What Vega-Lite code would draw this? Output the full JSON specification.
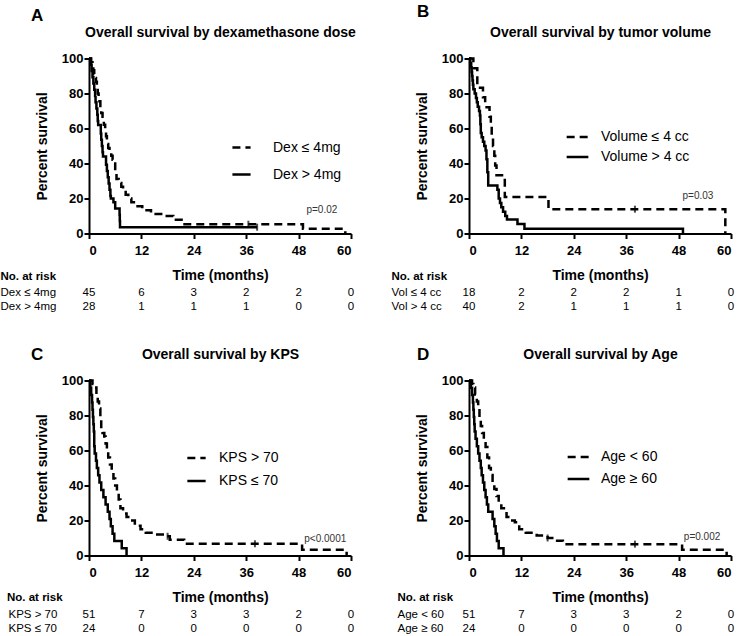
{
"$schema":"https://vega.github.io/schema/vega-lite/v6.json",
"padding":{"left":0,"top":2.5,"right":0,"bottom":0},
"config":{"font":"Liberation Sans","view":{"stroke":null},
 "axis":{"grid":false,"domainWidth":2,"tickWidth":2,"tickSize":5,"domainColor":"black","tickColor":"black","labelColor":"black","titleColor":"black","labelFontSize":13,"labelFontWeight":"bold","titleFontSize":14,"titleFontWeight":"bold"},
 "axisX":{"labelPadding":6,"titlePadding":11},
 "axisY":{"labelPadding":1,"titlePadding":12},
 "title":{"color":"black","fontWeight":"bold"},
 "text":{"font":"Liberation Sans","color":"black"}
},
"resolve":{"scale":{"strokeDash":"independent"},"legend":{"strokeDash":"independent"}},
"datasets":{
"curveA":[
{"g":"Dex ≤ 4mg","t":0,"s":100},{"g":"Dex ≤ 4mg","t":0.5,"s":97.8},{"g":"Dex ≤ 4mg","t":0.8,"s":95.6},{"g":"Dex ≤ 4mg","t":1.0,"s":93.3},{"g":"Dex ≤ 4mg","t":1.2,"s":91.1},{"g":"Dex ≤ 4mg","t":1.4,"s":88.9},{"g":"Dex ≤ 4mg","t":1.6,"s":86.7},{"g":"Dex ≤ 4mg","t":1.8,"s":84.4},{"g":"Dex ≤ 4mg","t":2.0,"s":80},{"g":"Dex ≤ 4mg","t":2.2,"s":77.8},{"g":"Dex ≤ 4mg","t":2.4,"s":75.6},{"g":"Dex ≤ 4mg","t":2.6,"s":71.1},{"g":"Dex ≤ 4mg","t":2.8,"s":68.9},{"g":"Dex ≤ 4mg","t":3.1,"s":66.7},{"g":"Dex ≤ 4mg","t":3.4,"s":62.2},{"g":"Dex ≤ 4mg","t":3.7,"s":57.8},{"g":"Dex ≤ 4mg","t":3.9,"s":55.6},{"g":"Dex ≤ 4mg","t":4.1,"s":51.1},{"g":"Dex ≤ 4mg","t":4.4,"s":48.9},{"g":"Dex ≤ 4mg","t":4.7,"s":46.7},{"g":"Dex ≤ 4mg","t":5.1,"s":44.4},{"g":"Dex ≤ 4mg","t":5.4,"s":42.2},{"g":"Dex ≤ 4mg","t":5.7,"s":40},{"g":"Dex ≤ 4mg","t":6.0,"s":35.6},{"g":"Dex ≤ 4mg","t":6.3,"s":31.1},{"g":"Dex ≤ 4mg","t":6.8,"s":28.9},{"g":"Dex ≤ 4mg","t":7.4,"s":26.7},{"g":"Dex ≤ 4mg","t":7.8,"s":24.4},{"g":"Dex ≤ 4mg","t":8.4,"s":22.2},{"g":"Dex ≤ 4mg","t":9.0,"s":20},{"g":"Dex ≤ 4mg","t":9.7,"s":17.8},{"g":"Dex ≤ 4mg","t":10.7,"s":15.6},{"g":"Dex ≤ 4mg","t":12.2,"s":13.3},{"g":"Dex ≤ 4mg","t":14.2,"s":11.1},{"g":"Dex ≤ 4mg","t":17.0,"s":10},{"g":"Dex ≤ 4mg","t":19.3,"s":7.8},{"g":"Dex ≤ 4mg","t":21.2,"s":5.3},{"g":"Dex ≤ 4mg","t":49,"s":2.7},{"g":"Dex ≤ 4mg","t":58.7,"s":0},
{"g":"Dex > 4mg","t":0,"s":100},{"g":"Dex > 4mg","t":0.4,"s":96.4},{"g":"Dex > 4mg","t":0.6,"s":92.9},{"g":"Dex > 4mg","t":0.8,"s":89.3},{"g":"Dex > 4mg","t":1.0,"s":85.7},{"g":"Dex > 4mg","t":1.2,"s":82.1},{"g":"Dex > 4mg","t":1.4,"s":78.6},{"g":"Dex > 4mg","t":1.5,"s":75},{"g":"Dex > 4mg","t":1.7,"s":71.4},{"g":"Dex > 4mg","t":1.9,"s":67.9},{"g":"Dex > 4mg","t":2.0,"s":64.3},{"g":"Dex > 4mg","t":2.1,"s":62},{"g":"Dex > 4mg","t":2.7,"s":57.1},{"g":"Dex > 4mg","t":2.8,"s":53.6},{"g":"Dex > 4mg","t":2.95,"s":50},{"g":"Dex > 4mg","t":3.1,"s":46.4},{"g":"Dex > 4mg","t":3.2,"s":44},{"g":"Dex > 4mg","t":3.9,"s":39.3},{"g":"Dex > 4mg","t":4.1,"s":35.7},{"g":"Dex > 4mg","t":4.3,"s":32.1},{"g":"Dex > 4mg","t":4.5,"s":28.6},{"g":"Dex > 4mg","t":4.7,"s":25},{"g":"Dex > 4mg","t":4.9,"s":21.4},{"g":"Dex > 4mg","t":5.0,"s":20},{"g":"Dex > 4mg","t":5.6,"s":17.9},{"g":"Dex > 4mg","t":6.0,"s":14.3},{"g":"Dex > 4mg","t":7.0,"s":10.7},{"g":"Dex > 4mg","t":7.05,"s":7.1},{"g":"Dex > 4mg","t":7.1,"s":3.6},{"g":"Dex > 4mg","t":38.5,"s":3.6}
],
"curveB":[
{"g":"Volume ≤ 4 cc","t":0,"s":100},{"g":"Volume ≤ 4 cc","t":1.0,"s":94.4},{"g":"Volume ≤ 4 cc","t":1.9,"s":83.3},{"g":"Volume ≤ 4 cc","t":3.2,"s":77.8},{"g":"Volume ≤ 4 cc","t":3.7,"s":72.2},{"g":"Volume ≤ 4 cc","t":4.7,"s":66.7},{"g":"Volume ≤ 4 cc","t":5.0,"s":61.1},{"g":"Volume ≤ 4 cc","t":5.2,"s":55.6},{"g":"Volume ≤ 4 cc","t":5.5,"s":50},{"g":"Volume ≤ 4 cc","t":5.8,"s":44.4},{"g":"Volume ≤ 4 cc","t":6.0,"s":38.9},{"g":"Volume ≤ 4 cc","t":6.3,"s":33.3},{"g":"Volume ≤ 4 cc","t":8.2,"s":20.8},{"g":"Volume ≤ 4 cc","t":18.2,"s":13.9},{"g":"Volume ≤ 4 cc","t":58.7,"s":0},
{"g":"Volume > 4 cc","t":0,"s":100},{"g":"Volume > 4 cc","t":0.3,"s":97.5},{"g":"Volume > 4 cc","t":0.5,"s":95},{"g":"Volume > 4 cc","t":0.6,"s":92.5},{"g":"Volume > 4 cc","t":0.7,"s":90},{"g":"Volume > 4 cc","t":0.8,"s":87.5},{"g":"Volume > 4 cc","t":0.9,"s":85},{"g":"Volume > 4 cc","t":1.0,"s":82.5},{"g":"Volume > 4 cc","t":1.3,"s":80},{"g":"Volume > 4 cc","t":1.6,"s":77.5},{"g":"Volume > 4 cc","t":1.8,"s":75},{"g":"Volume > 4 cc","t":2.0,"s":72.5},{"g":"Volume > 4 cc","t":2.3,"s":70},{"g":"Volume > 4 cc","t":2.5,"s":67.5},{"g":"Volume > 4 cc","t":2.6,"s":62.5},{"g":"Volume > 4 cc","t":2.7,"s":57.5},{"g":"Volume > 4 cc","t":2.9,"s":55},{"g":"Volume > 4 cc","t":3.2,"s":52.5},{"g":"Volume > 4 cc","t":3.5,"s":50},{"g":"Volume > 4 cc","t":3.8,"s":47.5},{"g":"Volume > 4 cc","t":4.0,"s":42.5},{"g":"Volume > 4 cc","t":4.2,"s":35},{"g":"Volume > 4 cc","t":4.4,"s":27.5},{"g":"Volume > 4 cc","t":6.5,"s":25},{"g":"Volume > 4 cc","t":6.8,"s":20},{"g":"Volume > 4 cc","t":7.1,"s":17.5},{"g":"Volume > 4 cc","t":7.4,"s":15},{"g":"Volume > 4 cc","t":7.8,"s":12.5},{"g":"Volume > 4 cc","t":8.3,"s":10},{"g":"Volume > 4 cc","t":8.7,"s":8},{"g":"Volume > 4 cc","t":11.1,"s":5.5},{"g":"Volume > 4 cc","t":12.7,"s":2.7},{"g":"Volume > 4 cc","t":49,"s":0}
],
"curveC":[
{"g":"KPS > 70","t":0,"s":100},{"g":"KPS > 70","t":0.8,"s":98},{"g":"KPS > 70","t":1.3,"s":96},{"g":"KPS > 70","t":1.7,"s":92},{"g":"KPS > 70","t":2.0,"s":88},{"g":"KPS > 70","t":2.3,"s":84},{"g":"KPS > 70","t":2.6,"s":78},{"g":"KPS > 70","t":2.8,"s":72},{"g":"KPS > 70","t":3.1,"s":70},{"g":"KPS > 70","t":3.5,"s":68},{"g":"KPS > 70","t":3.8,"s":64},{"g":"KPS > 70","t":4.1,"s":60},{"g":"KPS > 70","t":4.4,"s":56},{"g":"KPS > 70","t":4.8,"s":52},{"g":"KPS > 70","t":5.2,"s":48},{"g":"KPS > 70","t":5.6,"s":44},{"g":"KPS > 70","t":6.0,"s":40},{"g":"KPS > 70","t":6.4,"s":36},{"g":"KPS > 70","t":6.8,"s":32},{"g":"KPS > 70","t":7.2,"s":27},{"g":"KPS > 70","t":7.8,"s":24},{"g":"KPS > 70","t":8.6,"s":22},{"g":"KPS > 70","t":9.4,"s":20},{"g":"KPS > 70","t":10.5,"s":17},{"g":"KPS > 70","t":11.8,"s":15},{"g":"KPS > 70","t":13.0,"s":13},{"g":"KPS > 70","t":15.0,"s":12},{"g":"KPS > 70","t":17.5,"s":11},{"g":"KPS > 70","t":18.5,"s":9},{"g":"KPS > 70","t":21.8,"s":6.7},{"g":"KPS > 70","t":48.8,"s":3.3},{"g":"KPS > 70","t":59,"s":0},
{"g":"KPS ≤ 70","t":0,"s":100},{"g":"KPS ≤ 70","t":0.3,"s":95.8},{"g":"KPS ≤ 70","t":0.5,"s":91.7},{"g":"KPS ≤ 70","t":0.7,"s":87.5},{"g":"KPS ≤ 70","t":0.8,"s":83.3},{"g":"KPS ≤ 70","t":0.9,"s":79.2},{"g":"KPS ≤ 70","t":1.0,"s":75},{"g":"KPS ≤ 70","t":1.1,"s":70.8},{"g":"KPS ≤ 70","t":1.2,"s":62.5},{"g":"KPS ≤ 70","t":1.3,"s":58.3},{"g":"KPS ≤ 70","t":1.6,"s":54.2},{"g":"KPS ≤ 70","t":1.8,"s":50},{"g":"KPS ≤ 70","t":2.1,"s":45.8},{"g":"KPS ≤ 70","t":2.4,"s":41.7},{"g":"KPS ≤ 70","t":2.8,"s":37.5},{"g":"KPS ≤ 70","t":3.3,"s":33.3},{"g":"KPS ≤ 70","t":3.8,"s":29.2},{"g":"KPS ≤ 70","t":4.3,"s":25},{"g":"KPS ≤ 70","t":4.7,"s":20.8},{"g":"KPS ≤ 70","t":5.0,"s":16.7},{"g":"KPS ≤ 70","t":5.4,"s":12.5},{"g":"KPS ≤ 70","t":5.8,"s":8.3},{"g":"KPS ≤ 70","t":7.5,"s":4.2},{"g":"KPS ≤ 70","t":8.6,"s":0}
],
"curveD":[
{"g":"Age < 60","t":0,"s":100},{"g":"Age < 60","t":0.7,"s":98},{"g":"Age < 60","t":1.0,"s":96},{"g":"Age < 60","t":1.4,"s":92},{"g":"Age < 60","t":1.8,"s":88},{"g":"Age < 60","t":2.1,"s":84},{"g":"Age < 60","t":2.4,"s":78},{"g":"Age < 60","t":2.7,"s":74},{"g":"Age < 60","t":3.0,"s":70},{"g":"Age < 60","t":3.4,"s":66},{"g":"Age < 60","t":3.8,"s":62},{"g":"Age < 60","t":4.2,"s":56},{"g":"Age < 60","t":4.6,"s":50},{"g":"Age < 60","t":5.0,"s":46},{"g":"Age < 60","t":5.4,"s":42},{"g":"Age < 60","t":5.8,"s":38},{"g":"Age < 60","t":6.3,"s":34},{"g":"Age < 60","t":6.8,"s":30},{"g":"Age < 60","t":7.4,"s":27},{"g":"Age < 60","t":8.0,"s":25},{"g":"Age < 60","t":8.6,"s":22},{"g":"Age < 60","t":9.5,"s":20},{"g":"Age < 60","t":10.5,"s":19},{"g":"Age < 60","t":11.5,"s":15},{"g":"Age < 60","t":13.0,"s":13},{"g":"Age < 60","t":15.5,"s":11.5},{"g":"Age < 60","t":18.0,"s":10},{"g":"Age < 60","t":19.5,"s":8.5},{"g":"Age < 60","t":21.5,"s":6.5},{"g":"Age < 60","t":48.8,"s":3.3},{"g":"Age < 60","t":59,"s":0},
{"g":"Age ≥ 60","t":0,"s":100},{"g":"Age ≥ 60","t":0.4,"s":95.8},{"g":"Age ≥ 60","t":0.7,"s":91.7},{"g":"Age ≥ 60","t":0.9,"s":87.5},{"g":"Age ≥ 60","t":1.0,"s":83.3},{"g":"Age ≥ 60","t":1.1,"s":79.2},{"g":"Age ≥ 60","t":1.2,"s":75},{"g":"Age ≥ 60","t":1.3,"s":70.8},{"g":"Age ≥ 60","t":1.5,"s":66.7},{"g":"Age ≥ 60","t":1.8,"s":62.5},{"g":"Age ≥ 60","t":2.1,"s":58.3},{"g":"Age ≥ 60","t":2.4,"s":54.2},{"g":"Age ≥ 60","t":2.7,"s":50},{"g":"Age ≥ 60","t":2.9,"s":45.8},{"g":"Age ≥ 60","t":3.2,"s":41.7},{"g":"Age ≥ 60","t":3.5,"s":37.5},{"g":"Age ≥ 60","t":3.8,"s":33.3},{"g":"Age ≥ 60","t":4.1,"s":29.2},{"g":"Age ≥ 60","t":4.4,"s":25},{"g":"Age ≥ 60","t":5.4,"s":20.8},{"g":"Age ≥ 60","t":5.8,"s":16.7},{"g":"Age ≥ 60","t":6.1,"s":12.5},{"g":"Age ≥ 60","t":6.4,"s":8.3},{"g":"Age ≥ 60","t":6.8,"s":4.2},{"g":"Age ≥ 60","t":7.9,"s":0}
],
"censor":[
{"p":"A","t":36.5,"s":5.3},{"p":"A","t":38.5,"s":3.6},{"p":"B","t":38,"s":13.9},{"p":"C","t":18,"s":11},{"p":"C","t":38,"s":6.7},{"p":"D","t":18,"s":10},{"p":"D","t":38,"s":6.5}
],
"pvals":[{"p":"A","label":"p=0.02"},{"p":"B","label":"p=0.03"},{"p":"C","label":"p<0.0001"},{"p":"D","label":"p=0.002"}],
"risk":[
{"p":"A","g":"Dex  ≤ 4mg","t":0,"n":45},{"p":"A","g":"Dex  ≤ 4mg","t":12,"n":6},{"p":"A","g":"Dex  ≤ 4mg","t":24,"n":3},{"p":"A","g":"Dex  ≤ 4mg","t":36,"n":2},{"p":"A","g":"Dex  ≤ 4mg","t":48,"n":2},{"p":"A","g":"Dex  ≤ 4mg","t":60,"n":0},
{"p":"A","g":"Dex > 4mg","t":0,"n":28},{"p":"A","g":"Dex > 4mg","t":12,"n":1},{"p":"A","g":"Dex > 4mg","t":24,"n":1},{"p":"A","g":"Dex > 4mg","t":36,"n":1},{"p":"A","g":"Dex > 4mg","t":48,"n":0},{"p":"A","g":"Dex > 4mg","t":60,"n":0},
{"p":"B","g":"Vol ≤ 4 cc","t":0,"n":18},{"p":"B","g":"Vol ≤ 4 cc","t":12,"n":2},{"p":"B","g":"Vol ≤ 4 cc","t":24,"n":2},{"p":"B","g":"Vol ≤ 4 cc","t":36,"n":2},{"p":"B","g":"Vol ≤ 4 cc","t":48,"n":1},{"p":"B","g":"Vol ≤ 4 cc","t":60,"n":0},
{"p":"B","g":"Vol > 4 cc","t":0,"n":40},{"p":"B","g":"Vol > 4 cc","t":12,"n":2},{"p":"B","g":"Vol > 4 cc","t":24,"n":1},{"p":"B","g":"Vol > 4 cc","t":36,"n":1},{"p":"B","g":"Vol > 4 cc","t":48,"n":1},{"p":"B","g":"Vol > 4 cc","t":60,"n":0},
{"p":"C","g":"KPS > 70","t":0,"n":51},{"p":"C","g":"KPS > 70","t":12,"n":7},{"p":"C","g":"KPS > 70","t":24,"n":3},{"p":"C","g":"KPS > 70","t":36,"n":3},{"p":"C","g":"KPS > 70","t":48,"n":2},{"p":"C","g":"KPS > 70","t":60,"n":0},
{"p":"C","g":"KPS ≤ 70","t":0,"n":24},{"p":"C","g":"KPS ≤ 70","t":12,"n":0},{"p":"C","g":"KPS ≤ 70","t":24,"n":0},{"p":"C","g":"KPS ≤ 70","t":36,"n":0},{"p":"C","g":"KPS ≤ 70","t":48,"n":0},{"p":"C","g":"KPS ≤ 70","t":60,"n":0},
{"p":"D","g":"Age < 60","t":0,"n":51},{"p":"D","g":"Age < 60","t":12,"n":7},{"p":"D","g":"Age < 60","t":24,"n":3},{"p":"D","g":"Age < 60","t":36,"n":3},{"p":"D","g":"Age < 60","t":48,"n":2},{"p":"D","g":"Age < 60","t":60,"n":0},
{"p":"D","g":"Age ≥ 60","t":0,"n":24},{"p":"D","g":"Age ≥ 60","t":12,"n":0},{"p":"D","g":"Age ≥ 60","t":24,"n":0},{"p":"D","g":"Age ≥ 60","t":36,"n":0},{"p":"D","g":"Age ≥ 60","t":48,"n":0},{"p":"D","g":"Age ≥ 60","t":60,"n":0}
]
},
"columns":2,
"spacing":{"row":52,"column":118},
"bounds":"flush",
"concat":[
  {"width":262,"height":175,
   "title":{"text":"A","anchor":"start","frame":"group","dx":-58,"fontSize":17,"offset":1},
   "layer":[
    {"data":{"name":"curveA"},"mark":{"type":"line","interpolate":"step-after","color":"black","strokeWidth":2.5},
     "encoding":{"x":{"field":"t","type":"quantitative","scale":{"domain":[0,60],"nice":false},"axis":{"orient":"bottom","title":"Time (months)","values":[0,12,24,36,48,60]}},
      "y":{"field":"s","type":"quantitative","scale":{"domain":[0,100],"nice":false},"axis":{"title":"Percent survival","values":[0,20,40,60,80,100]}},
      "strokeDash":{"field":"g","type":"nominal","scale":{"domain":["Dex ≤ 4mg","Dex > 4mg"],"range":[[8,5],[1,0]]},
       "legend":{"orient":"none","legendX":142,"legendY":78.5,"title":null,"labelFontSize":14,"labelColor":"black","symbolType":"stroke","symbolSize":330,"symbolStrokeWidth":2.5,"symbolStrokeColor":"black","labelOffset":21,"rowPadding":9,"padding":0}}}},
    {"data":{"name":"censor"},"transform":[{"filter":"datum.p==='A'"}],"mark":{"type":"tick","orient":"vertical","size":7,"thickness":2,"color":"black"},
     "encoding":{"x":{"field":"t","type":"quantitative","axis":null},"y":{"field":"s","type":"quantitative","axis":{"title":"Percent survival","values":[0,20,40,60,80,100]}}}},
    {"data":{"name":"pvals"},"transform":[{"filter":"datum.p==='A'"}],"mark":{"type":"text","align":"left","baseline":"middle","fontSize":10,"color":"#333"},
     "encoding":{"x":{"datum":49.8,"type":"quantitative","axis":{"orient":"top","title":"Overall survival by dexamethasone dose","labels":false,"ticks":false,"domain":false,"titlePadding":19}},"y":{"datum":13.7,"type":"quantitative","axis":{"title":"Percent survival","values":[0,20,40,60,80,100]}},"text":{"field":"label"}}}
   ]},
  {"width":262,"height":175,
   "title":{"text":"B","anchor":"start","frame":"group","dx":-52,"fontSize":17,"offset":4.5},
   "layer":[
    {"data":{"name":"curveB"},"mark":{"type":"line","interpolate":"step-after","color":"black","strokeWidth":2.5},
     "encoding":{"x":{"field":"t","type":"quantitative","scale":{"domain":[0,60],"nice":false},"axis":{"orient":"bottom","title":"Time (months)","values":[0,12,24,36,48,60]}},
      "y":{"field":"s","type":"quantitative","scale":{"domain":[0,100],"nice":false},"axis":{"title":"Percent survival","values":[0,20,40,60,80,100]}},
      "strokeDash":{"field":"g","type":"nominal","scale":{"domain":["Volume ≤ 4 cc","Volume > 4 cc"],"range":[[8,5],[1,0]]},
       "legend":{"orient":"none","legendX":96,"legendY":66,"title":null,"labelFontSize":14,"labelColor":"black","symbolType":"stroke","symbolSize":470,"symbolStrokeWidth":2.5,"symbolStrokeColor":"black","labelOffset":11,"rowPadding":0,"padding":0}}}},
    {"data":{"name":"censor"},"transform":[{"filter":"datum.p==='B'"}],"mark":{"type":"tick","orient":"vertical","size":7,"thickness":2,"color":"black"},
     "encoding":{"x":{"field":"t","type":"quantitative","axis":null},"y":{"field":"s","type":"quantitative","axis":{"title":"Percent survival","values":[0,20,40,60,80,100]}}}},
    {"data":{"name":"pvals"},"transform":[{"filter":"datum.p==='B'"}],"mark":{"type":"text","align":"left","baseline":"middle","fontSize":10,"color":"#333"},
     "encoding":{"x":{"datum":48.9,"type":"quantitative","axis":{"orient":"top","title":"Overall survival by tumor volume","labels":false,"ticks":false,"domain":false,"titlePadding":19}},"y":{"datum":21.4,"type":"quantitative","axis":{"title":"Percent survival","values":[0,20,40,60,80,100]}},"text":{"field":"label"}}}
   ]},
  {"width":262,"height":42.6,"data":{"name":"risk"},"transform":[{"filter":"datum.p==='A'"}],
   "mark":{"type":"text","fontSize":11.5,"baseline":"middle"},
   "encoding":{"x":{"field":"t","type":"quantitative","scale":{"domain":[0,60],"nice":false},"axis":null},
    "y":{"field":"g","type":"nominal","sort":["Dex  ≤ 4mg","Dex > 4mg"],"scale":{"range":[0,28],"paddingInner":0,"paddingOuter":0},
     "axis":{"ticks":false,"tickSize":0,"domain":false,"labelAlign":"left","labelPadding":89,"labelFontSize":11.5,"labelFontWeight":"normal","title":"No. at risk","titleAngle":0,"titleAlign":"left","titleBaseline":"middle","titleX":-89,"titleY":-9,"titleFontSize":11.5,"titleFontWeight":"bold"}},
    "text":{"field":"n"}}},
  {"width":262,"height":42.6,"data":{"name":"risk"},"transform":[{"filter":"datum.p==='B'"}],
   "mark":{"type":"text","fontSize":11.5,"baseline":"middle"},
   "encoding":{"x":{"field":"t","type":"quantitative","scale":{"domain":[0,60],"nice":false},"axis":null},
    "y":{"field":"g","type":"nominal","sort":["Vol ≤ 4 cc","Vol > 4 cc"],"scale":{"range":[0,28],"paddingInner":0,"paddingOuter":0},
     "axis":{"ticks":false,"tickSize":0,"domain":false,"labelAlign":"left","labelPadding":78,"labelFontSize":11.5,"labelFontWeight":"normal","title":"No. at risk","titleAngle":0,"titleAlign":"left","titleBaseline":"middle","titleX":-78,"titleY":-9,"titleFontSize":11.5,"titleFontWeight":"bold"}},
    "text":{"field":"n"}}},
  {"width":262,"height":175,
   "title":{"text":"C","anchor":"start","frame":"group","dx":-58,"fontSize":17,"offset":-16},
   "layer":[
    {"data":{"name":"curveC"},"mark":{"type":"line","interpolate":"step-after","color":"black","strokeWidth":2.5},
     "encoding":{"x":{"field":"t","type":"quantitative","scale":{"domain":[0,60],"nice":false},"axis":{"orient":"bottom","title":"Time (months)","values":[0,12,24,36,48,60]}},
      "y":{"field":"s","type":"quantitative","scale":{"domain":[0,100],"nice":false},"axis":{"title":"Percent survival","values":[0,20,40,60,80,100]}},
      "strokeDash":{"field":"g","type":"nominal","scale":{"domain":["KPS > 70","KPS ≤ 70"],"range":[[8,5],[1,0]]},
       "legend":{"orient":"none","legendX":97,"legendY":67,"title":null,"labelFontSize":14,"labelColor":"black","symbolType":"stroke","symbolSize":335,"symbolStrokeWidth":2.5,"symbolStrokeColor":"black","labelOffset":12,"rowPadding":5,"padding":0}}}},
    {"data":{"name":"censor"},"transform":[{"filter":"datum.p==='C'"}],"mark":{"type":"tick","orient":"vertical","size":7,"thickness":2,"color":"black"},
     "encoding":{"x":{"field":"t","type":"quantitative","axis":null},"y":{"field":"s","type":"quantitative","axis":{"title":"Percent survival","values":[0,20,40,60,80,100]}}}},
    {"data":{"name":"pvals"},"transform":[{"filter":"datum.p==='C'"}],"mark":{"type":"text","align":"left","baseline":"middle","fontSize":10,"color":"#333"},
     "encoding":{"x":{"datum":49.3,"type":"quantitative","axis":{"orient":"top","title":"Overall survival by KPS","labels":false,"ticks":false,"domain":false,"titlePadding":19}},"y":{"datum":9.2,"type":"quantitative","axis":{"title":"Percent survival","values":[0,20,40,60,80,100]}},"text":{"field":"label"}}}
   ]},
  {"width":262,"height":175,
   "title":{"text":"D","anchor":"start","frame":"group","dx":-52,"fontSize":17,"offset":-16},
   "layer":[
    {"data":{"name":"curveD"},"mark":{"type":"line","interpolate":"step-after","color":"black","strokeWidth":2.5},
     "encoding":{"x":{"field":"t","type":"quantitative","scale":{"domain":[0,60],"nice":false},"axis":{"orient":"bottom","title":"Time (months)","values":[0,12,24,36,48,60]}},
      "y":{"field":"s","type":"quantitative","scale":{"domain":[0,100],"nice":false},"axis":{"title":"Percent survival","values":[0,20,40,60,80,100]}},
      "strokeDash":{"field":"g","type":"nominal","scale":{"domain":["Age < 60","Age ≥ 60"],"range":[[8,5],[1,0]]},
       "legend":{"orient":"none","legendX":97,"legendY":64,"title":null,"labelFontSize":14,"labelColor":"black","symbolType":"stroke","symbolSize":470,"symbolStrokeWidth":2.5,"symbolStrokeColor":"black","labelOffset":10,"rowPadding":2,"padding":0}}}},
    {"data":{"name":"censor"},"transform":[{"filter":"datum.p==='D'"}],"mark":{"type":"tick","orient":"vertical","size":7,"thickness":2,"color":"black"},
     "encoding":{"x":{"field":"t","type":"quantitative","axis":null},"y":{"field":"s","type":"quantitative","axis":{"title":"Percent survival","values":[0,20,40,60,80,100]}}}},
    {"data":{"name":"pvals"},"transform":[{"filter":"datum.p==='D'"}],"mark":{"type":"text","align":"left","baseline":"middle","fontSize":10,"color":"#333"},
     "encoding":{"x":{"datum":49.2,"type":"quantitative","axis":{"orient":"top","title":"Overall survival by Age","labels":false,"ticks":false,"domain":false,"titlePadding":19}},"y":{"datum":10.6,"type":"quantitative","axis":{"title":"Percent survival","values":[0,20,40,60,80,100]}},"text":{"field":"label"}}}
   ]},
  {"width":262,"height":42.6,"data":{"name":"risk"},"transform":[{"filter":"datum.p==='C'"}],
   "mark":{"type":"text","fontSize":11.5,"baseline":"middle"},
   "encoding":{"x":{"field":"t","type":"quantitative","scale":{"domain":[0,60],"nice":false},"axis":null},
    "y":{"field":"g","type":"nominal","sort":["KPS > 70","KPS ≤ 70"],"scale":{"range":[0,28],"paddingInner":0,"paddingOuter":0},
     "axis":{"ticks":false,"tickSize":0,"domain":false,"labelAlign":"left","labelPadding":81,"labelFontSize":11.5,"labelFontWeight":"normal","title":"No. at risk","titleAngle":0,"titleAlign":"left","titleBaseline":"middle","titleX":-82.5,"titleY":-10,"titleFontSize":11.5,"titleFontWeight":"bold"}},
    "text":{"field":"n"}}},
  {"width":262,"height":42.6,"data":{"name":"risk"},"transform":[{"filter":"datum.p==='D'"}],
   "mark":{"type":"text","fontSize":11.5,"baseline":"middle"},
   "encoding":{"x":{"field":"t","type":"quantitative","scale":{"domain":[0,60],"nice":false},"axis":null},
    "y":{"field":"g","type":"nominal","sort":["Age < 60","Age ≥ 60"],"scale":{"range":[0,28],"paddingInner":0,"paddingOuter":0},
     "axis":{"ticks":false,"tickSize":0,"domain":false,"labelAlign":"left","labelPadding":72,"labelFontSize":11.5,"labelFontWeight":"normal","title":"No. at risk","titleAngle":0,"titleAlign":"left","titleBaseline":"middle","titleX":-72,"titleY":-10,"titleFontSize":11.5,"titleFontWeight":"bold"}},
    "text":{"field":"n"}}}
]
}
